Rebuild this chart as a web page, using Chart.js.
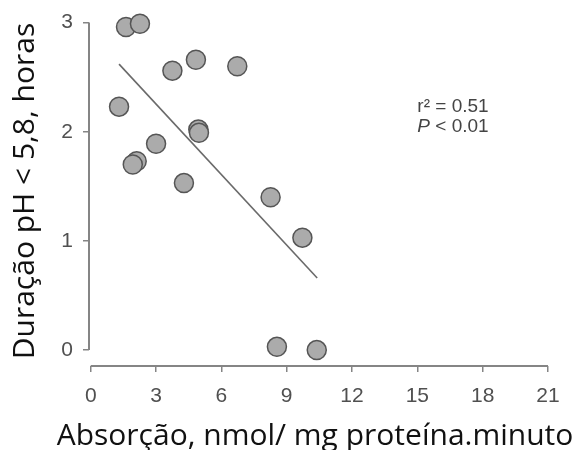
<!DOCTYPE html>
<html>
<head>
<meta charset="utf-8">
<script src="https://cdn.jsdelivr.net/npm/chart.js@4.4.1/dist/chart.umd.min.js"></script>
<style>
  html, body { margin: 0; padding: 0; background: #fff; }
</style>
</head>
<body>
<canvas id="scatterChart" width="578" height="450"></canvas>
<script>
// dados
var absorcao = [1.62, 2.26, 3.75, 4.83, 6.73, 1.30, 4.94, 4.97, 3.00, 2.11, 1.93, 4.28, 8.26, 9.72, 8.55, 10.38];
var duracao  = [2.96, 2.99, 2.56, 2.66, 2.60, 2.23, 2.02, 1.99, 1.89, 1.73, 1.70, 1.53, 1.40, 1.03, 0.03, 0.00];
var retaX = [1.30, 10.40];
var retaY = [2.62, 0.66];
var ticksX = [0, 3, 6, 9, 12, 15, 18, 21];
var ticksY = [0, 1, 2, 3];
var tituloX = 'Absorção, nmol/ mg proteína.minuto';
var tituloY = 'Duração pH < 5,8, horas';
var anotacao = ['r² = 0.51', 'P', ' < 0.01'];

var pontos = absorcao.map(function (x, i) { return { x: x, y: duracao[i] }; });
var reta = retaX.map(function (x, i) { return { x: x, y: retaY[i] }; });

var eixoCor = '#858585';
var textoCor = '#505050';

var extras = {
  id: 'extras',
  beforeDatasetsDraw: function (chart) {
    var ctx = chart.ctx, xs = chart.scales.x, ys = chart.scales.y;
    ctx.save();
    ctx.strokeStyle = eixoCor;
    ctx.lineWidth = 2;
    ctx.beginPath();
    ctx.moveTo(xs.left, ys.getPixelForValue(ticksY[ticksY.length - 1]));
    ctx.lineTo(xs.left, ys.getPixelForValue(ticksY[0]));
    ctx.moveTo(xs.getPixelForValue(ticksX[0]), ys.bottom);
    ctx.lineTo(xs.getPixelForValue(ticksX[ticksX.length - 1]), ys.bottom);
    ctx.stroke();
    ctx.restore();
  },
  afterDraw: function (chart) {
    var ctx = chart.ctx, xs = chart.scales.x, ys = chart.scales.y;
    ctx.save();
    // títulos dos eixos
    ctx.fillStyle = '#111111';
    ctx.font = '30px "Open Sans"';
    ctx.textAlign = 'center';
    ctx.textBaseline = 'alphabetic';
    ctx.fillText(tituloX, 315, 445);
    ctx.translate(34, 191);
    ctx.rotate(-Math.PI / 2);
    ctx.fillText(tituloY, 0, 0);
    ctx.restore();

    // r² e P
    ctx.save();
    ctx.fillStyle = '#444444';
    ctx.textAlign = 'left';
    ctx.textBaseline = 'alphabetic';
    var ax = xs.getPixelForValue(15);
    var ay = ys.getPixelForValue(2.18);
    ctx.font = '19px "Liberation Sans"';
    ctx.fillText(anotacao[0], ax, ay);
    ctx.font = 'italic 19px "Liberation Sans"';
    ctx.fillText(anotacao[1], ax, ay + 20);
    var w = ctx.measureText(anotacao[1]).width;
    ctx.font = '19px "Liberation Sans"';
    ctx.fillText(anotacao[2], ax + w, ay + 20);
    ctx.restore();
  }
};

var scatterChart = new Chart(document.getElementById('scatterChart').getContext('2d'), {
  type: 'scatter',
  data: {
    datasets: [
      {
        data: pontos,
        backgroundColor: '#ababab',
        borderColor: '#555555',
        borderWidth: 1.5,
        pointRadius: 9.5,
        pointHoverRadius: 9.5,
        clip: false
      },
      {
        type: 'line',
        data: reta,
        borderColor: '#6a6a6a',
        borderWidth: 1.6,
        pointRadius: 0,
        fill: false
      }
    ]
  },
  options: {
    responsive: false,
    animation: false,
    events: [],
    layout: { padding: { top: 21, right: 30, left: 0, bottom: 0 } },
    plugins: { legend: { display: false }, tooltip: { enabled: false } },
    scales: {
      x: {
        type: 'linear',
        min: -0.08,
        max: 21,
        afterFit: function (s) { s.height = 84; },
        afterBuildTicks: function (s) { s.ticks = ticksX.map(function (v) { return { value: v }; }); },
        grid: { drawOnChartArea: false, drawTicks: true, tickLength: 6, color: eixoCor, lineWidth: 1.5 },
        border: { display: false },
        ticks: { color: textoCor, font: { family: 'Liberation Sans', size: 21 }, padding: 12, maxRotation: 0 }
      },
      y: {
        type: 'linear',
        min: -0.1455,
        max: 3,
        afterFit: function (s) { s.width = 89; },
        afterBuildTicks: function (s) { s.ticks = ticksY.map(function (v) { return { value: v }; }); },
        grid: { drawOnChartArea: false, drawTicks: true, tickLength: 6, color: eixoCor, lineWidth: 1.5 },
        border: { display: false },
        ticks: { color: textoCor, font: { family: 'Liberation Sans', size: 21 }, padding: 10 }
      }
    }
  },
  plugins: [extras]
});
</script>
</body>
</html>
